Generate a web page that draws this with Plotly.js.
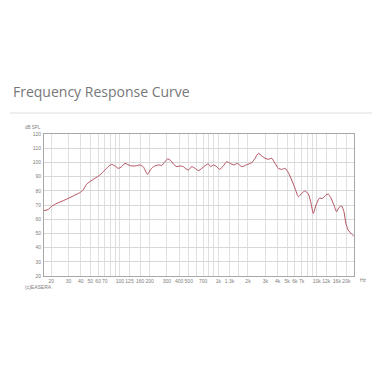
<!DOCTYPE html>
<html>
<head>
<meta charset="utf-8">
<script src="https://cdn.plot.ly/plotly-3.0.1.min.js"></script>
<style>
  html, body { margin: 0; padding: 0; background: #ffffff; }
  #chart { width: 372px; height: 366px; }
</style>
</head>
<body>
<div id="chart"></div>
<script>
// Measured response (Hz, dB SPL)
const freq = [16.9, 18.7, 20.4, 22.9, 26.6, 31, 34.8, 39.1, 42.3, 45.7, 49.4, 55.6, 62.4, 70.2, 76, 82.2, 89, 96.3, 104, 112.6, 127, 143, 160, 172, 180, 190, 203, 219, 246, 266, 287, 304, 323, 349, 378, 408, 441, 470, 496, 536, 580, 626, 678, 732, 791, 837, 890, 963, 1024, 1108, 1217, 1315, 1444, 1560, 1729, 1943, 2184, 2359, 2551, 2757, 2981, 3223, 3483, 3766, 4070, 4401, 4758, 5144, 5560, 6013, 6500, 7027, 7596, 8211, 8677, 9219, 9827, 10620, 11470, 12390, 13070, 13820, 14940, 15890, 16880, 17870, 18870, 19770, 20860, 22540, 23800];
const spl = [66.0, 66.9, 69.3, 71.2, 73.1, 75.2, 77.0, 78.7, 80.6, 84.6, 86.4, 88.8, 91.1, 94.6, 97.0, 98.6, 97.5, 95.8, 97.0, 99.3, 97.7, 97.5, 98.2, 97.0, 94.6, 91.6, 94.6, 97.0, 98.2, 97.9, 100.5, 102.4, 101.7, 98.9, 97.0, 97.5, 97.0, 95.4, 94.6, 97.0, 95.8, 94.2, 95.8, 97.7, 98.9, 97.0, 98.2, 97.0, 95.1, 97.0, 100.5, 99.3, 98.2, 99.3, 97.0, 98.4, 99.8, 102.9, 106.4, 104.6, 102.9, 102.2, 102.9, 99.3, 95.8, 95.1, 95.8, 92.8, 87.6, 81.7, 75.9, 78.2, 79.9, 77.7, 72.3, 64.1, 70.0, 74.7, 74.7, 77.0, 77.7, 75.4, 70.0, 65.3, 68.4, 69.3, 65.3, 57.1, 52.4, 49.6, 48.2];

// Axis tick labels
const labelFreqs = [20, 30, 40, 50, 60, 70, 100, 125, 160, 200, 300, 400, 500, 700, 1000, 1300, 2000, 3000, 4000, 5000, 6000, 7000, 10000, 12500, 16000, 20000];
const labelTexts = ["20", "30", "40", "50", "60", "70", "100", "125", "160", "200", "300", "400", "500", "700", "1k", "1.3k", "2k", "3k", "4k", "5k", "6k", "7k", "10k", "12k", "16k", "20k"];
const gridFreqs = [20, 30, 40, 50, 60, 70, 80, 90, 100, 125, 160, 200, 300, 400, 500, 600, 700, 800, 900, 1000, 1300, 1600, 2000, 3000, 4000, 5000, 6000, 7000, 8000, 9000, 10000, 12500, 16000, 20000];
const majorFreqs = [20, 100, 200, 1000, 2000, 10000, 20000];
const dbTicks = [20, 30, 40, 50, 60, 70, 80, 90, 100, 110, 120];

const ticktext = gridFreqs.map(f => {
  const i = labelFreqs.indexOf(f);
  return i >= 0 ? labelTexts[i] : "";
});

const xRange = [Math.log10(16.9), Math.log10(23900)];
const tickFont = { family: "Liberation Sans, Arial, sans-serif", size: 5, color: "#808080" };

const trace = {
  x: freq, y: spl, type: "scatter", mode: "lines",
  line: { color: "#b4505c", width: 1, shape: "spline", smoothing: 0.6 },
  hoverinfo: "skip", showlegend: false
};

const layout = {
  width: 372, height: 366,
  margin: { l: 44, r: 18, t: 134, b: 90 },
  paper_bgcolor: "#ffffff", plot_bgcolor: "#ffffff",
  showlegend: false,
  xaxis: {
    type: "log", range: xRange,
    tickmode: "array", tickvals: gridFreqs, ticktext: ticktext, tickangle: 0,
    showgrid: true, gridcolor: "#e0e0e0", gridwidth: 1,
    showline: true, mirror: true, linecolor: "#a8a8a8", linewidth: 1,
    ticks: "", tickfont: tickFont, ticklabelstandoff: 0,
    zeroline: false, fixedrange: true
  },
  xaxis2: {
    type: "log", range: xRange, overlaying: "x", anchor: "y",
    tickmode: "array", tickvals: majorFreqs,
    showgrid: true, gridcolor: "#b8b8b8", gridwidth: 1,
    showticklabels: false, ticks: "", showline: false, zeroline: false
  },
  yaxis: {
    range: [20, 120], tickmode: "array", tickvals: dbTicks,
    showgrid: true, gridcolor: "#d8d8d8", gridwidth: 1,
    showline: true, mirror: true, linecolor: "#a8a8a8", linewidth: 1,
    ticks: "", tickfont: tickFont, ticklabelstandoff: 1,
    zeroline: false, fixedrange: true
  },
  shapes: [
    { type: "line", xref: "paper", yref: "paper", x0: -0.11, x1: 1.06, y0: 1.148, y1: 1.148,
      line: { color: "#e8e8e8", width: 1.5 } }
  ],
  annotations: [
    { text: "Frequency Response Curve", xref: "paper", yref: "paper", x: -0.106, y: 1.296,
      xanchor: "left", yanchor: "middle", showarrow: false,
      font: { family: "Open Sans, sans-serif", size: 14, color: "#777777" } },
    { text: "dB SPL", xref: "paper", yref: "paper", x: -0.035, y: 1.045,
      xanchor: "center", yanchor: "middle", showarrow: false,
      font: { family: "Liberation Sans, Arial, sans-serif", size: 4.5, color: "#808080" } },
    { text: "Hz", xref: "paper", yref: "paper", x: 1.013, y: -0.028,
      xanchor: "left", yanchor: "middle", showarrow: false,
      font: { family: "Liberation Sans, Arial, sans-serif", size: 5, color: "#808080" } },
    { text: "(c)EASERA", xref: "paper", yref: "paper", x: -0.068, y: -0.077,
      xanchor: "left", yanchor: "middle", showarrow: false,
      font: { family: "Liberation Sans, Arial, sans-serif", size: 5, color: "#808080" } }
  ]
};

Plotly.newPlot("chart", [trace], layout, { staticPlot: true, displayModeBar: false });
</script>
</body>
</html>
